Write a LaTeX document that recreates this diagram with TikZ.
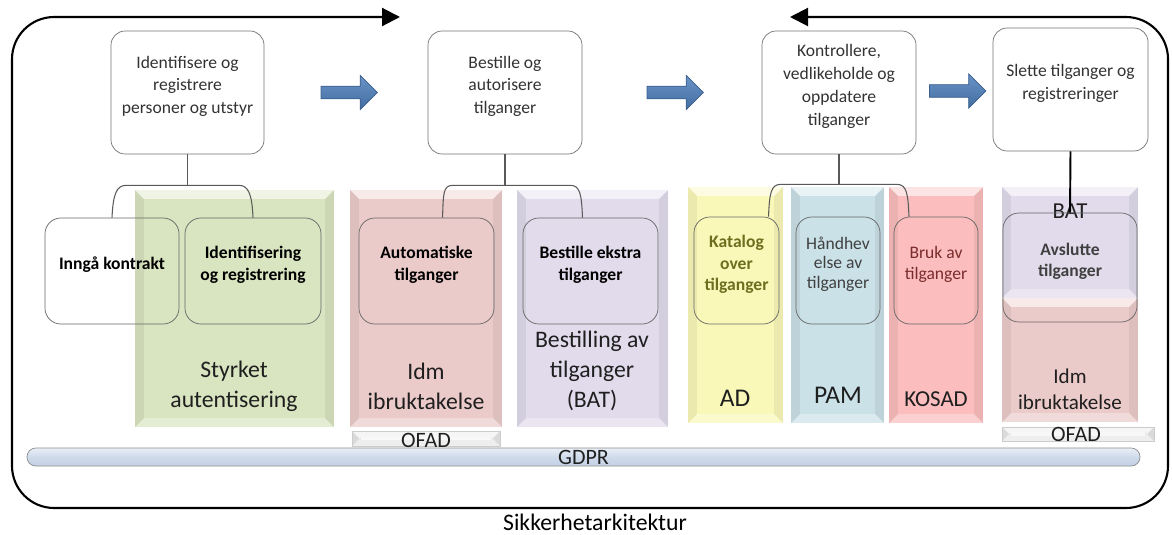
\documentclass[tikz,border=0pt]{standalone}
\usepackage{fontspec}
\setmainfont{Carlito}
\usetikzlibrary{arrows.meta, calc, fit, positioning, shapes.arrows}
\definecolor{arrowBlue}{HTML}{4F81BD}
\definecolor{arrowEdge}{HTML}{3A5F8C}
\definecolor{colGreen}{HTML}{D9E4C0}
\definecolor{colRose}{HTML}{EBCBCA}
\definecolor{colLilac}{HTML}{E1DBEC}
\definecolor{colYellow}{HTML}{FAF8B8}
\definecolor{colBlue}{HTML}{CAE1E7}
\definecolor{colPink}{HTML}{FBBDBD}
\definecolor{gdprBlue}{HTML}{C3D1E6}
\definecolor{katText}{HTML}{6E6E1F}
\definecolor{brukText}{HTML}{7A2C2C}
\newcommand{\loopArrow}{{Triangle[length=3.6mm, width=3.6mm]}}
\tikzset{
	bevel/.style={draw=none, inner sep=0pt, fill=#1, path picture={
		\fill[white, opacity=.6] (path picture bounding box.north west) -- (path picture bounding box.north east) -- ([xshift=-5pt, yshift=-5pt]path picture bounding box.north east) -- ([xshift=5pt, yshift=-5pt]path picture bounding box.north west) -- cycle;
		\fill[white, opacity=.3] (path picture bounding box.south west) -- (path picture bounding box.south east) -- ([xshift=-5pt, yshift=5pt]path picture bounding box.south east) -- ([xshift=5pt, yshift=5pt]path picture bounding box.south west) -- cycle;
		\fill[black, opacity=.06] (path picture bounding box.north west) -- ([xshift=5pt, yshift=-5pt]path picture bounding box.north west) -- ([xshift=5pt, yshift=5pt]path picture bounding box.south west) -- (path picture bounding box.south west) -- cycle;
		\fill[black, opacity=.06] (path picture bounding box.north east) -- ([xshift=-5pt, yshift=-5pt]path picture bounding box.north east) -- ([xshift=-5pt, yshift=5pt]path picture bounding box.south east) -- (path picture bounding box.south east) -- cycle;
	}},
}

\begin{document}
\begin{tikzpicture}[x=0.02cm, y=-0.02cm,
	topbox/.style={draw=black!55, fill=white, rounded corners=8pt, align=center, inner sep=0pt, text=black!80, font=\fontsize{10}{13}\selectfont},
	subbox/.style={draw=black!60, rounded corners=9pt, align=center, inner sep=0pt, font=\bfseries\fontsize{10}{12.5}\selectfont},
	collabel/.style={align=center, text=black!88, font=\fontsize{13.5}{17}\selectfont},
	barlabel/.style={text=black!88, font=\fontsize{12.5}{14}\selectfont},
	ofadbar/.style={bevel=black!9, draw=black!20},
	blockarrow/.style={single arrow, draw=arrowEdge, top color=arrowBlue!85!white, bottom color=arrowBlue!85!black, minimum height=32pt, inner xsep=0pt, inner ysep=3.4pt, single arrow head extend=6.1pt},
	link/.style={draw=black!65, line width=0.6pt}]
	\useasboundingbox (0,0) rectangle (1172,534);

	\draw[line width=1.2pt, rounded corners=24pt, \loopArrow-\loopArrow] (790,17) -- (1168,17) -- (1168,508) -- (12,508) -- (12,17) -- (400,17);
	\node (caption) at (595,522) {\fontsize{13.5}{15}\selectfont Sikkerhetarkitektur};

	\node[topbox, fit={(111,31) (264,154)}] (b1) {Identifisere og\\registrere\\personer og utstyr};
	\node[topbox, fit={(428,31) (582,154)}] (b2) {Bestille og\\autorisere\\tilganger};
	\node[topbox, fit={(762,31) (916,154)}] (b3) {Kontrollere,\\vedlikeholde og\\oppdatere\\tilganger};
	\node[topbox, fit={(993,28) (1148,151)}] (b4) {Slette tilganger og\\registreringer};

	\node[blockarrow] (ar1) at ($(b1.east)!.5!(b2.west)$) {};
	\node[blockarrow] (ar2) at ($(b2.east)!.5!(b3.west)$) {};
	\node[blockarrow] (ar3) at ($(b3.east)!.5!(b4.west)$) {};

	\node[bevel=colGreen, fit={(135,190) (334,427)}] (styrket) {};
	\node[bevel=colRose, fit={(350,190) (502,427)}] (idm) {};
	\node[bevel=colLilac, fit={(517,190) (668,427)}] (bat) {};
	\node[bevel=colYellow, fit={(688,187) (783,423)}] (ad) {};
	\node[bevel=colBlue, fit={(791,187) (884,423)}] (pam) {};
	\node[bevel=colPink, fit={(889,187) (983,423)}] (kosad) {};
	\node[bevel=colLilac, fit={(1002,187) (1138,298)}] (batR) {};
	\node[bevel=colRose, fit={(1002,298) (1138,422)}] (idmR) {};

	\node[collabel] (styrketTxt) at (234,386) {Styrket\\autentisering};
	\node[collabel] (idmTxt) at (426,386) {Idm\\ibruktakelse};
	\node[collabel] (batTxt) at (592,371) {Bestilling av\\tilganger\\(BAT)};
	\node[collabel, font=\fontsize{14.5}{17}\selectfont] (adTxt) at (735,398) {AD};
	\node[collabel, font=\fontsize{14.5}{17}\selectfont] (pamTxt) at (838,395) {PAM};
	\node[collabel, font=\fontsize{13}{17}\selectfont] (kosadTxt) at (936,399) {KOSAD};
	\node[collabel, font=\fontsize{13}{15}\selectfont] (batRTxt) at (1070,211) {BAT};
	\node[collabel, font=\fontsize{12}{15}\selectfont] (idmRTxt) at (1070,389) {Idm\\ibruktakelse};

	\node[subbox, fit={(45,218) (179,324)}] (inn) {Inngå kontrakt};
	\node[subbox, fit={(185,218) (321,324)}] (ide) {Identifisering\\og registrering};
	\node[subbox, fit={(359,218) (494,324)}] (auto) {Automatiske\\tilganger};
	\node[subbox, fit={(523,218) (658,324)}] (ekstra) {Bestille ekstra\\tilganger};
	\node[subbox, fit={(694,217) (779,324)}, text=katText] (kat) {Katalog\\over\\tilganger};
	\node[subbox, fit={(796,217) (880,324)}, font=\fontsize{10}{11}\selectfont, text=black!75] (handhev) {Håndhev\\else av\\tilganger};
	\node[subbox, fit={(894,217) (978,324)}, font=\fontsize{10}{12.5}\selectfont, text=brukText] (bruk) {Bruk av\\tilganger};
	\node[subbox, fit={(1003,213) (1137,322)}, text=black!75] (avs) {Avslutte\\tilganger};

	\draw[link] (b1.south) -- ++(0,31) coordinate (j1);
	\draw[link] (inn.north) .. controls +(1,-22) and +(-10,0) .. ($(inn.north |- j1)+(14,0)$) -- ($(ide.north |- j1)+(-14,0)$) .. controls +(10,0) and +(-1,-22) .. (ide.north);
	\draw[link] (b2.south) -- ++(0,31) coordinate (j2);
	\draw[link] ($(auto.north)+(16,0)$) .. controls +(1,-22) and +(-10,0) .. ($(auto.north |- j2)+(26,0)$) -- ($(ekstra.north |- j2)+(-20,0)$) .. controls +(10,0) and +(-1,-22) .. ($(ekstra.north)+(-8,0)$);
	\draw[link] (b3.south) -- ++(0,30) coordinate (j3);
	\draw[link] ($(kat.north)+(32,0)$) .. controls +(1,-22) and +(-10,0) .. ($(kat.north |- j3)+(44,0)$) -- ($(bruk.north |- j3)+(-39,0)$) .. controls +(10,0) and +(-1,-22) .. ($(bruk.north)+(-27,0)$);
	\draw[line width=1.1pt] (b4.south) -- (avs.north);

	\node[ofadbar, fit={(352,431) (500,446)}] (ofad1) {};
	\node[ofadbar, fit={(1002,427) (1154,441)}] (ofad2) {};
	\node[draw=black!45, rounded corners=5pt, top color=gdprBlue!35!white, bottom color=gdprBlue, middle color=gdprBlue!80!white, fit={(27,448) (1140,466)}, inner sep=0pt] (gdpr) {};
	\node[barlabel] (ofad1Txt) at (426,440) {OFAD};
	\node[barlabel] (ofad2Txt) at (1076,434) {OFAD};
	\node[barlabel] (gdprTxt) at (gdpr.center) {GDPR};
\end{tikzpicture}
\end{document}
